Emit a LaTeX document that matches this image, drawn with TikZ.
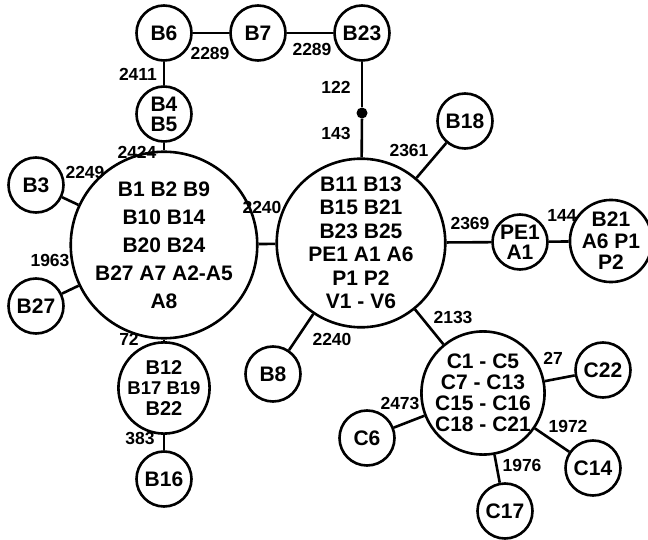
\documentclass[tikz,border=0pt]{standalone}
\usepackage{fontspec}
\setmainfont{Liberation Sans}
\begin{document}
\begin{tikzpicture}[x=1pt,y=-1pt,
  hap/.style={circle,draw,line width=2.6pt,fill=white,inner sep=0pt,align=center,
     font=\fontsize{21}{20}\selectfont\bfseries},
  sm/.style={hap,minimum size=55pt},
  edge/.style={line width=2.6pt},
  lab/.style={font=\fontsize{17.5}{18}\selectfont\bfseries,inner sep=0pt}]
\useasboundingbox (0,0) rectangle (648,540);
% nodes
\node[hap,minimum size=166pt,font=\fontsize{21}{28}\selectfont\bfseries] (L) at (164,245)
  {B1 B2 B9\\B10 B14\\B20 B24\\B27 A7 A2-A5\\A8};
\node[hap,minimum size=166pt,font=\fontsize{21}{23.5}\selectfont\bfseries] (R) at (361,243)
  {B11 B13\\B15 B21\\B23 B25\\PE1 A1 A6\\P1 P2\\V1 - V6};
\node[sm] (B6) at (164,33) {B6};
\node[sm] (B7) at (258,33) {B7};
\node[sm] (B23) at (362,33) {B23};
\node[sm] (B45) at (164,114) {B4\\B5};
\node[circle,fill,inner sep=0pt,minimum size=11pt] (dot) at (362,113) {};
\node[sm] (B18) at (465,121) {B18};
\node[sm] (PE) at (520,242) {PE1\\A1};
\node[hap,minimum size=71pt,font=\fontsize{21}{21.5}\selectfont\bfseries] (B21) at (611,241) {B21\\A6 P1\\P2};
\node[sm] (B3) at (36,185) {B3};
\node[sm] (B27) at (36,306) {B27};
\node[hap,minimum size=75pt,font=\fontsize{20}{20.5}\selectfont\bfseries] (B12) at (164,388)
  {B12\\{\fontsize{18.5}{20.5}\selectfont B17 B19}\\B22};
\node[sm] (B16) at (164,479) {B16};
\node[sm] (B8) at (273,374) {B8};
\node[hap,minimum size=120pt,font=\fontsize{21}{21}\selectfont\bfseries] (C) at (483,393)
  {C1 - C5\\C7 - C13\\C15 - C16\\C18 - C21};
\node[sm] (C22) at (603,370) {C22};
\node[sm] (C6) at (367,438) {C6};
\node[sm] (C14) at (593,468) {C14};
\node[sm] (C17) at (505,511) {C17};
% edges
\draw[edge] (B6) -- (B7);
\draw[edge] (B7) -- (B23);
\draw[edge] (B6) -- (B45);
\draw[edge] (B45) -- (L);
\draw[edge] (B23) -- (dot);
\draw[edge] (dot) -- (R);
\draw[edge] (L) -- (R);
\draw[edge] (B3) -- (L);
\draw[edge] (B27) -- (L);
\draw[edge] (L) -- (B12);
\draw[edge] (B12) -- (B16);
\draw[edge] (R) -- (B18);
\draw[edge] (R) -- (PE);
\draw[edge] (PE) -- (B21);
\draw[edge] (R) -- (B8);
\draw[edge] (R) -- (C);
\draw[edge] (C) -- (C22);
\draw[edge] (C) -- (C6);
\draw[edge] (C) -- (C14);
\draw[edge] (C) -- (C17);
% labels
\node[lab] (l1) at (210,53) {2289};
\node[lab] (l2) at (312,49) {2289};
\node[lab] (l3) at (138,74) {2411};
\node[lab] (l4) at (137,152) {2424};
\node[lab] (l5) at (85,172) {2249};
\node[lab] (l6) at (262,207) {2240};
\node[lab] (l7) at (50,260) {1963};
\node[lab] (l8) at (336,87) {122};
\node[lab] (l9) at (336,133) {143};
\node[lab] (l10) at (409,150) {2361};
\node[lab] (l11) at (470,223) {2369};
\node[lab] (l12) at (562,215) {144};
\node[lab] (l13) at (453,317) {2133};
\node[lab] (l14) at (332,339) {2240};
\node[lab] (l15) at (129,339) {72};
\node[lab] (l16) at (140,438) {383};
\node[lab] (l17) at (553,358) {27};
\node[lab] (l18) at (400,403) {2473};
\node[lab] (l19) at (568,426) {1972};
\node[lab] (l20) at (522,465) {1976};
\end{tikzpicture}
\end{document}
